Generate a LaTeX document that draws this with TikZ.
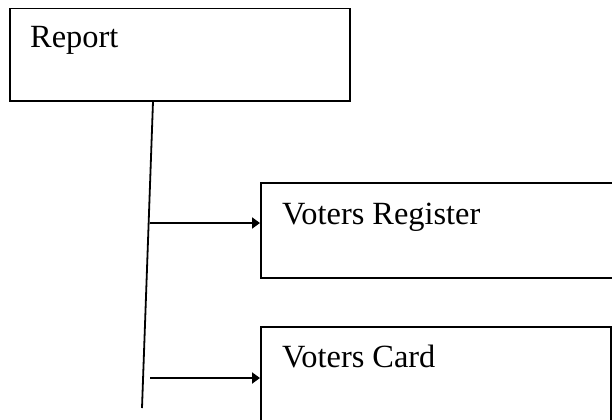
\documentclass[tikz,border=0pt]{standalone}
\usepackage{fontspec}
\setmainfont{Liberation Serif}
\usetikzlibrary{arrows.meta,calc}

\newlength\boxLine
\setlength\boxLine{1.6bp}
\tikzset{
  box/.style={draw, line width=\boxLine, anchor=north west, inner sep=0pt},
  boxText/.style={anchor=base west, inner sep=0pt, font=\fontsize{32.5}{37}\selectfont},
  link/.style={line width=2.2bp, -{Triangle[length=8bp,width=11bp]}}
}

\begin{document}
\begin{tikzpicture}[x=1bp,y=-1bp]
    \clip (0,0) rectangle (612,419);
    \useasboundingbox (0,0) rectangle (612,419);

    % boxes
    \node[box, minimum width=340bp, minimum height=92.5bp] (report) at (9,7.5) {};
    \node[box, minimum width=360bp, minimum height=95bp] (register) at (260,182) {};
    \node[box, minimum width=350bp, minimum height=110bp] (card) at (260,326) {};

    \node[boxText] (reportText) at ($(report.north west)+(21,39.5)$) {Report};
    \node[boxText] (registerText) at ($(register.north west)+(22,42)$) {Voters Register};
    \node[boxText] (cardText) at ($(card.north west)+(22,41)$) {Voters Card};

    % trunk
    \coordinate (trunkTop) at ($(report.south west)+(144,0)$);
    \coordinate (trunkBot) at (142,408);
    \draw[line width=1.8bp] (trunkTop) -- (trunkBot);

    \foreach \target/\y in {register/223,card/378} {
      \coordinate (from-\target) at (150,\y);
      \draw[link] (from-\target) -- (\target.west |- from-\target);
    }
\end{tikzpicture}
\end{document}
